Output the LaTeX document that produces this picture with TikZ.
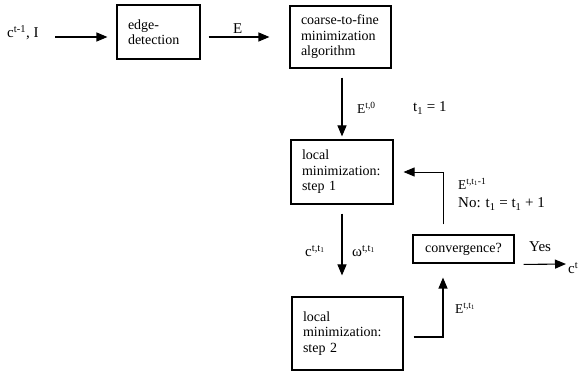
\documentclass[tikz,border=0pt]{standalone}
\usepackage{fontspec}
\setmainfont{Liberation Serif}
\usetikzlibrary{arrows.meta,calc}

\tikzset{
  box/.style={draw, line width=1.1pt, inner xsep=11pt, inner ysep=0pt,
    align=left, font=\fontsize{14}{15.5}\selectfont},
  arr/.style={line width=1.1pt, -{Triangle[length=11pt,width=9pt]}},
  lbl/.style={inner sep=0pt, anchor=west, font=\fontsize{15}{16}\selectfont},
  elbl/.style={inner sep=0pt, anchor=west, font=\fontsize{13.5}{15}\selectfont},
}

\begin{document}
\begin{tikzpicture}[x=1pt, y=-1pt]
  \useasboundingbox (0,0) rectangle (579,371);

  % processing blocks
  \node[box, minimum width=83, minimum height=54, text width=61] (edge)
    at (158.5,32) {edge-\\detection};
  \node[box, minimum width=101, minimum height=62, text width=79] (coarse)
    at (340.5,37) {coarse-to-fine\\minimization\\algorithm};
  \node[box, minimum width=102, minimum height=64, text width=80] (step1)
    at (342,172) {local\\minimization:\\step 1};
  \node[box, minimum width=111, minimum height=73, text width=89] (step2)
    at (347.5,333.5) {local\\minimization:\\step 2};
  \node[box, minimum width=101, minimum height=28, text width=79, align=center] (conv)
    at (463.5,249) {convergence?};

  % helper points
  \coordinate (cin) at (55,37);
  \coordinate (lx) at (443,0);
  \coordinate (cout) at (566,264);

  % connectors
  \draw[arr, shorten >=9pt] (cin) -- (cin -| edge.west);
  \draw[arr, shorten <=8pt, shorten >=20pt] (edge.east |- coarse.west) -- (coarse.west);
  \draw[arr, shorten <=9pt, shorten >=3pt] (step1.north |- coarse.south) -- (step1.north);
  \draw[arr, shorten <=9pt, shorten >=21pt] (step1.south) -- (step1.south |- step2.north);
  \draw[arr, shorten <=10pt, shorten >=14pt] ([yshift=-3.5pt]step2.east) -| (lx |- conv.south);
  \draw[arr, line width=0.8pt, shorten <=10pt, shorten >=10pt] (lx |- conv.north) |- (step1.east);
  \draw[arr, shorten <=9pt] ([yshift=-1pt]conv.south east) -- (cout);

  % labels
  \node[lbl] (lin) at (7,33) {c\textsuperscript{t-1}, I};
  \node[lbl] (le) at (233,29) {E};
  \node[elbl] (le0) at (357,108) {E\textsuperscript{t,0}};
  \node[lbl] (lt1) at (413,108) {t\textsubscript{1} = 1};
  \node[elbl] (lback) at (458,184) {E\textsuperscript{t,t\textsubscript{1}-1}};
  \node[lbl] (lno) at (458,204) {No: t\textsubscript{1} = t\textsubscript{1} + 1};
  \node[lbl] (lc) at (305,251) {c\textsuperscript{t,t\textsubscript{1}}};
  \node[lbl] (lw) at (352,251) {ω\textsuperscript{t,t\textsubscript{1}}};
  \node[lbl] (lyes) at (529,247) {Yes};
  \node[lbl] (lout) at (568,268) {c\textsuperscript{t}};
  \node[elbl] (lfwd) at (455,308) {E\textsuperscript{t,t\textsubscript{1}}};
\end{tikzpicture}
\end{document}
